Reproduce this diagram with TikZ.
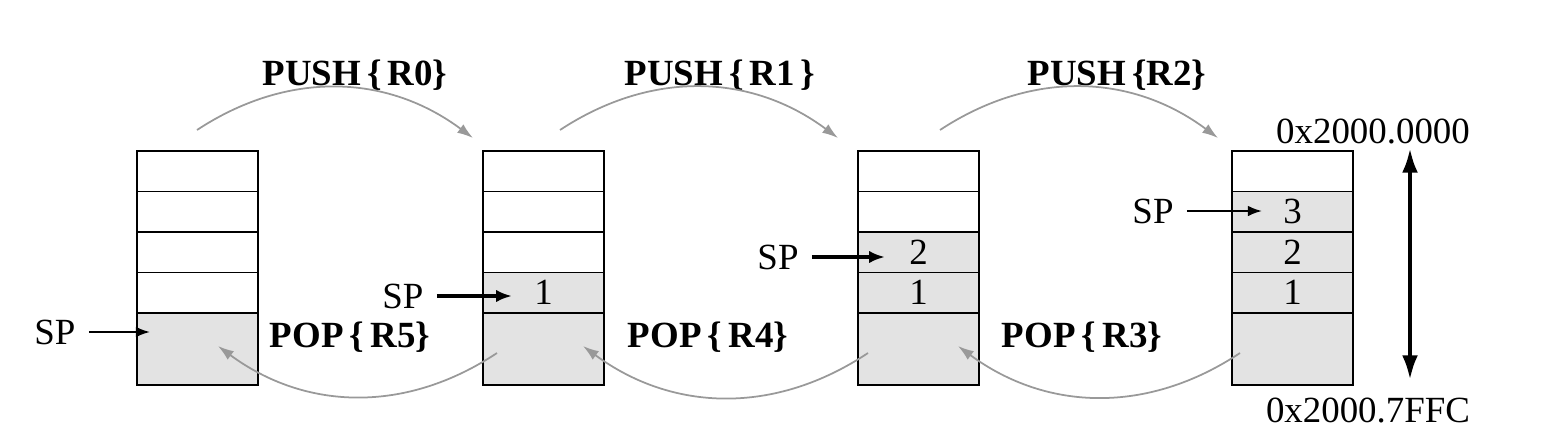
\documentclass[tikz,border=0pt]{standalone}
\usepackage{fontspec}
\setmainfont{Liberation Serif}
\usetikzlibrary{arrows.meta,positioning,calc}

\begin{document}
\begin{tikzpicture}[x=0.02cm, y=-0.02cm,
    cell/.style={rectangle, draw, line width=1.1pt, minimum width=2.42cm, minimum height=0.81cm,
        inner sep=0pt, outer sep=0pt, font=\fontsize{21}{24}\selectfont},
    used/.style={fill=gray!22},
    base/.style={cell, fill=gray!22, minimum height=1.44cm},
    lbl/.style={font=\fontsize{21}{24}\selectfont},
    op/.style={font=\bfseries\fontsize{21}{24}\selectfont},
    move/.style={-{Latex[length=9pt,width=6pt]}, gray!80, line width=1pt},
    ptr/.style={-{Latex[length=8pt,width=6pt]}, line width=1.1pt, shorten <=4pt},
    bigptr/.style={-{Latex[length=9pt,width=7pt]}, line width=2pt, shorten <=4pt},
    span/.style={{Latex[length=14pt,width=9pt]}-{Latex[length=14pt,width=9pt]}, line width=2.4pt}
]
    \useasboundingbox (0,0) rectangle (1546,444);

    % the four stacks
    \foreach \s/\x in {1/137, 2/483, 3/858, 4/1232} {
        \foreach \r in {1,...,4} {
            \pgfmathtruncatemacro\n{5-\r}
            \ifnum\r>\numexpr5-\s\relax
                \node[cell, used] (s\s-\r) at ({\x+60.5},{151+40.5*(\r-0.5)}) {\n};
            \else
                \node[cell] (s\s-\r) at ({\x+60.5},{151+40.5*(\r-0.5)}) {};
            \fi
        }
        \node[base] (s\s-b) at ({\x+60.5},349) {};
    }

    % stack pointers
    \node[lbl] (sp1) at (55,332) {SP};
    \node[lbl] (sp2) at (403,296) {SP};
    \node[lbl] (sp3) at (778,257) {SP};
    \node[lbl] (sp4) at (1153,211) {SP};
    \coordinate (sp1tip) at (150,332);
    \coordinate (sp2tip) at (512,296);
    \coordinate (sp3tip) at (885,257);
    \coordinate (sp4tip) at (1262,211);
    \draw[ptr] (sp1) -- (sp1tip);
    \draw[bigptr] (sp2) -- (sp2tip);
    \draw[bigptr] (sp3) -- (sp3tip);
    \draw[ptr] (sp4) -- (sp4tip);

    % push
    \node[op] (push1) at (355,75) {PUSH\,\{\,R0\}};
    \node[op] (push2) at (720,75) {PUSH\,\{\,R1\,\}};
    \node[op] (push3) at (1117,75) {PUSH\,\{R2\}};
    \coordinate (pu1a) at (197,130);
    \coordinate (pu1b) at (473,138);
    \coordinate (pu2a) at (560,130);
    \coordinate (pu2b) at (838,138);
    \coordinate (pu3a) at (940,130);
    \coordinate (pu3b) at (1218,138);
    \draw[move] (pu1a) to[bend left=35] (pu1b);
    \draw[move] (pu2a) to[bend left=35] (pu2b);
    \draw[move] (pu3a) to[bend left=35] (pu3b);

    % pop
    \node[op] (pop1) at (350,337) {POP\,\{\,R5\}};
    \node[op] (pop2) at (708,337) {POP\,\{\,R4\}};
    \node[op] (pop3) at (1082,337) {POP\,\{\,R3\}};
    \coordinate (po1a) at (497,353);
    \coordinate (po1b) at (218,346);
    \coordinate (po2a) at (868,353);
    \coordinate (po2b) at (583,346);
    \coordinate (po3a) at (1240,353);
    \coordinate (po3b) at (958,346);
    \draw[move] (po1a) to[bend left=35] (po1b);
    \draw[move] (po2a) to[bend left=35] (po2b);
    \draw[move] (po3a) to[bend left=35] (po3b);

    % address range
    \node[lbl] (addrtop) at (1373,131) {0x2000.0000};
    \node[lbl] (addrbot) at (1368,410) {0x2000.7FFC};
    \coordinate (hi) at (1410,148);
    \coordinate (lo) at (1410,380);
    \draw[span] (hi) -- (lo);
\end{tikzpicture}
\end{document}
